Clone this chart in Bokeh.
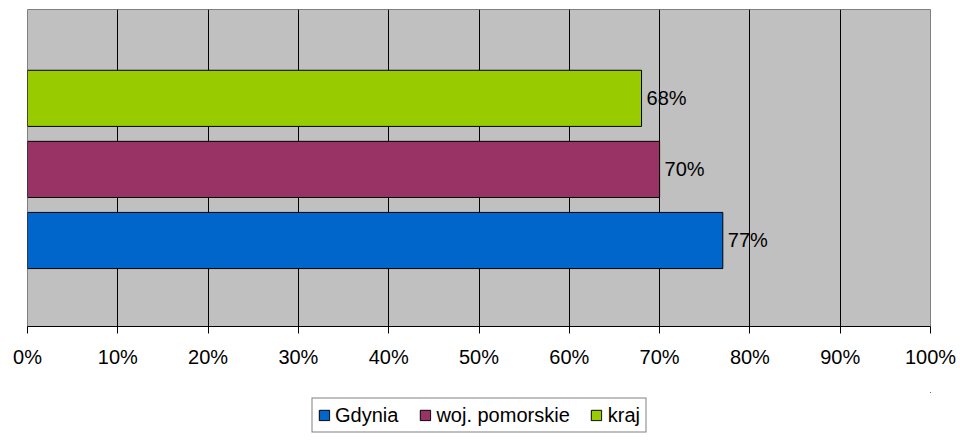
from bokeh.plotting import figure
from bokeh.layouts import column
from bokeh.models import Range1d, Legend, LegendItem, FixedTicker, PrintfTickFormatter, ColumnDataSource
from bokeh.core.properties import value
from bokeh.embed import file_html
from bokeh.resources import INLINE

series = ["Gdynia", "woj. pomorskie", "kraj"]
values = [77, 70, 68]
colors = ["#0066CC", "#993366", "#99CC00"]
x_ticks = [0, 10, 20, 30, 40, 50, 60, 70, 80, 90, 100]

FONT = "Liberation Sans"
FS = "20px"

p = figure(frame_width=903, frame_height=317, output_backend="svg", toolbar_location=None,
           x_range=Range1d(0, 100), y_range=Range1d(-0.21, 4.25),
           min_border_left=27, min_border_right=28, min_border_top=9, min_border_bottom=66)
p.background_fill_color = "#C0C0C0"
p.border_fill_color = "white"
p.outline_line_color = "#808080"
p.outline_line_width = 1

positions = [i + 1 for i in range(len(series))]
for i, (s, v, c) in enumerate(zip(series, values, colors)):
    src = ColumnDataSource(dict(y=[positions[i]], right=[v], lab=[f"{v}%"]))
    p.hbar(y="y", right="right", left=0, height=0.79, source=src,
           fill_color=c, line_color="black", line_width=1)
    p.text(x="right", y="y", text="lab", source=src, x_offset=5,
           text_baseline="middle", text_align="left", text_font=value(FONT),
           text_font_size=FS, text_color="black")

p.ygrid.visible = False
p.yaxis.visible = False
p.xgrid.grid_line_color = "black"
p.xgrid.grid_line_width = 1
p.xgrid.grid_line_alpha = 1

xa = p.xaxis[0]
xa.ticker = FixedTicker(ticks=x_ticks)
xa.formatter = PrintfTickFormatter(format="%d%%")
xa.axis_line_color = "black"
xa.major_tick_line_color = "black"
xa.major_tick_out = 7
xa.major_tick_in = 0
xa.minor_tick_line_color = None
xa.major_label_standoff = 12
xa.major_label_text_font = FONT
xa.major_label_text_font_size = FS
xa.major_label_text_color = "black"

# separate strip holding the legend (legend drawn inside its own frame)
lg = figure(width=958, height=46, output_backend="svg", toolbar_location=None,
            x_range=Range1d(0, 1), y_range=Range1d(0, 1),
            x_axis_location=None, y_axis_location=None,
            min_border_left=0, min_border_right=0, min_border_top=0, min_border_bottom=0)
lg.xgrid.visible = False
lg.ygrid.visible = False
lg.outline_line_color = None
lg.background_fill_color = "white"
lg.border_fill_color = "white"

items = []
for i, (s, v, c) in enumerate(zip(series, values, colors)):
    src = ColumnDataSource(dict(y=[positions[i] + 5], x=[v]))
    r = lg.hbar(y="y", right="x", left="x", height=0.5, source=src,
                fill_color=c, line_color="black", line_width=1)
    items.append(LegendItem(label=s, renderers=[r]))

legend = Legend(items=items, orientation="horizontal", location="center")
legend.border_line_color = "black"
legend.border_line_width = 1
legend.background_fill_color = "white"
legend.background_fill_alpha = 1
legend.label_text_font = FONT
legend.label_text_font_size = FS
legend.label_text_color = "black"
legend.label_height = 20
legend.glyph_width = 13
legend.glyph_height = 13
legend.label_standoff = 5
legend.spacing = 20
legend.padding = 5
legend.margin = 0
lg.add_layout(legend, "center")

layout = column(p, lg, spacing=0)
open("out.html", "w").write(file_html(layout, INLINE))
